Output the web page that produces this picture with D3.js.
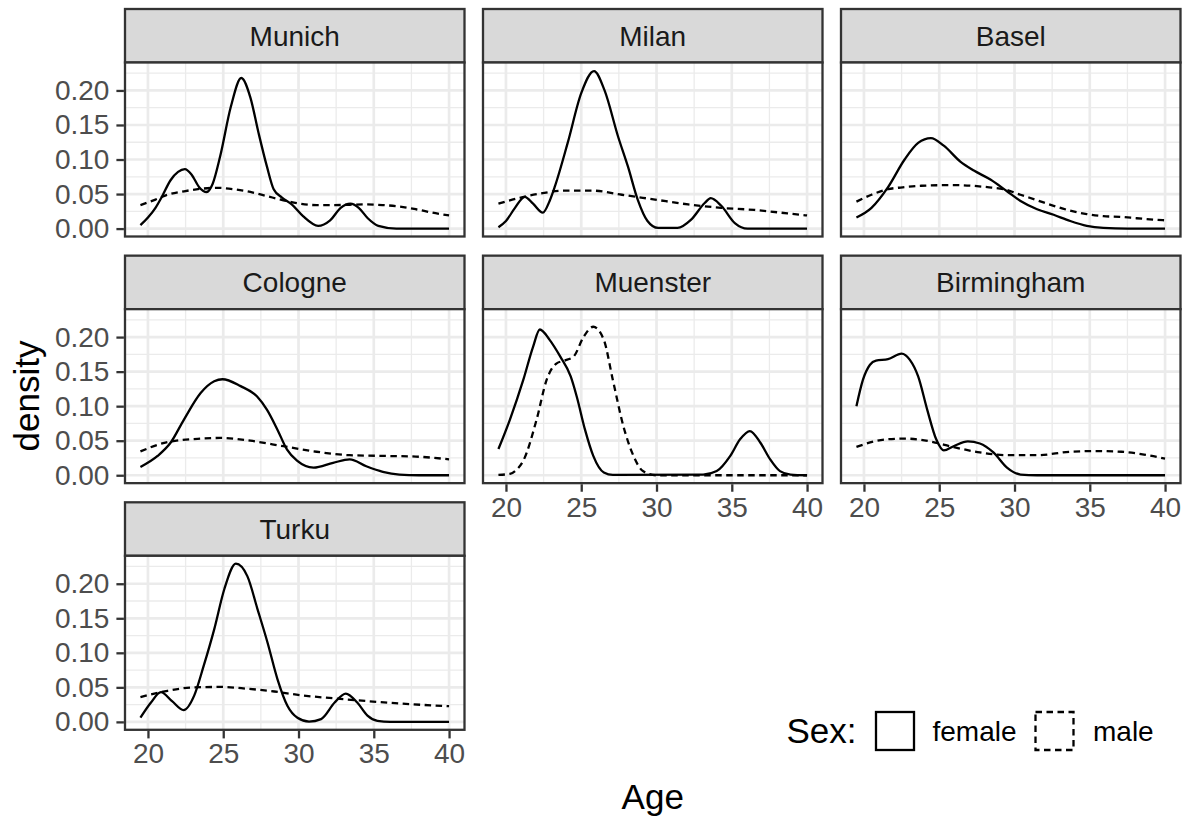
<!DOCTYPE html>
<html>
<head>
<meta charset="utf-8">
<script src="https://cdn.jsdelivr.net/npm/d3@7"></script>
<style>
  html, body { margin: 0; padding: 0; background: #ffffff; }
  svg { display: block; font-family: "Liberation Sans", Arial, sans-serif; }
</style>
</head>
<body>
<svg id="chart" width="1190" height="821"></svg>
<script>
// ---------------- DATA ----------------
const cities = ["Munich", "Milan", "Basel", "Cologne", "Muenster", "Birmingham", "Turku"];
const sexes = ["female", "male"];
const xTicks = [20, 25, 30, 35, 40];
const xTickLabels = ["20", "25", "30", "35", "40"];
const yTicks = [0, 0.05, 0.10, 0.15, 0.20];
const yTickLabels = ["0.00", "0.05", "0.10", "0.15", "0.20"];
const xLabel = "Age";
const yLabel = "density";
const legendTitle = "Sex:";

// [age, density] pairs
const munichFemale = [[19.5,0.005],[20.0,0.016],[20.5,0.030],[20.9,0.045],[21.5,0.070],[22.0,0.082],[22.45,0.086],[22.9,0.078],[23.4,0.060],[23.9,0.053],[24.3,0.065],[24.8,0.105],[25.5,0.176],[26.2,0.218],[26.8,0.190],[27.35,0.138],[27.9,0.090],[28.35,0.057],[28.9,0.045],[29.55,0.035],[30.3,0.018],[31.3,0.004],[32.1,0.012],[32.8,0.030],[33.45,0.036],[34.0,0.030],[34.6,0.015],[35.3,0.004],[36.5,0.0],[40.0,0.0]];
const munichMale = [[19.5,0.034],[20.5,0.042],[21.3,0.049],[22.4,0.054],[23.5,0.0576],[24.6,0.059],[25.7,0.057],[26.8,0.053],[27.9,0.047],[29.0,0.041],[30.1,0.036],[31.2,0.034],[32.3,0.034],[33.4,0.0345],[34.5,0.035],[35.6,0.034],[36.7,0.032],[37.8,0.028],[38.9,0.023],[40.0,0.019]];

const milanFemale = [[19.5,0.002],[20.0,0.011],[20.6,0.030],[21.25,0.046],[21.8,0.036],[22.45,0.023],[22.9,0.040],[23.25,0.061],[24.1,0.124],[25.0,0.196],[25.85,0.228],[26.55,0.200],[27.45,0.133],[28.1,0.090],[28.75,0.042],[29.4,0.011],[30.1,0.001],[31.4,0.001],[32.3,0.013],[33.2,0.037],[33.6,0.044],[34.3,0.033],[35.2,0.008],[36.05,0.0],[40.0,0.0]];
const milanMale = [[19.5,0.036],[20.8,0.044],[22.1,0.050],[23.9,0.055],[25.7,0.055],[27.7,0.049],[29.9,0.042],[32.1,0.035],[34.3,0.030],[36.5,0.027],[38.7,0.022],[40.0,0.019]];

const baselFemale = [[19.5,0.016],[20.5,0.030],[21.6,0.060],[22.7,0.100],[23.6,0.124],[24.45,0.131],[25.3,0.120],[26.4,0.097],[27.3,0.084],[28.4,0.071],[29.5,0.054],[30.4,0.040],[31.5,0.028],[32.6,0.020],[33.7,0.011],[34.8,0.004],[35.9,0.001],[37.5,0.0],[40.0,0.0]];
const baselMale = [[19.5,0.039],[20.5,0.049],[21.6,0.057],[22.7,0.060],[23.8,0.062],[26.0,0.063],[28.2,0.060],[29.3,0.057],[30.4,0.049],[31.5,0.041],[32.6,0.033],[33.7,0.026],[34.8,0.021],[35.9,0.018],[37.0,0.017],[38.1,0.015],[39.2,0.013],[40.0,0.012]];

const cologneFemale = [[19.5,0.012],[20.64,0.028],[21.5,0.047],[22.4,0.081],[23.5,0.119],[24.4,0.136],[24.95,0.139],[26.15,0.129],[27.25,0.114],[27.9,0.095],[28.6,0.066],[29.24,0.037],[29.9,0.021],[31.0,0.011],[32.3,0.018],[33.4,0.023],[34.5,0.013],[35.6,0.005],[36.7,0.001],[38.0,0.0],[40.0,0.0]];
const cologneMale = [[19.5,0.0345],[21.3,0.048],[23.5,0.053],[24.8,0.054],[26.8,0.050],[29.0,0.042],[31.2,0.034],[33.4,0.029],[35.6,0.028],[37.8,0.027],[40.0,0.023]];

const muensterFemale = [[19.5,0.038],[20.27,0.081],[21.15,0.138],[21.8,0.186],[22.25,0.211],[22.9,0.196],[23.6,0.172],[24.3,0.143],[24.7,0.114],[25.25,0.066],[25.8,0.028],[26.5,0.004],[27.1,0.0005],[33.1,0.001],[34.0,0.006],[34.9,0.028],[35.55,0.052],[36.2,0.064],[36.9,0.047],[37.55,0.023],[38.2,0.006],[38.9,0.001],[40.0,0.0]];
const muensterMale = [[19.5,0.0005],[20.27,0.002],[20.7,0.008],[21.15,0.021],[22.04,0.081],[22.7,0.138],[23.37,0.162],[23.9,0.166],[24.5,0.172],[25.15,0.200],[25.8,0.215],[26.5,0.196],[27.1,0.138],[27.8,0.071],[28.47,0.028],[29.1,0.006],[30.0,0.0],[40.0,0.0]];

const birminghamFemale = [[19.5,0.100],[19.93,0.138],[20.4,0.160],[20.8,0.166],[21.6,0.168],[22.5,0.176],[23.05,0.167],[23.6,0.143],[24.2,0.095],[24.8,0.052],[25.3,0.036],[25.95,0.042],[26.9,0.049],[27.7,0.046],[28.6,0.033],[29.5,0.011],[30.4,0.001],[31.5,0.0],[40.0,0.0]];
const birminghamMale = [[19.5,0.041],[21.5,0.052],[22.8,0.053],[24.4,0.049],[25.9,0.041],[27.7,0.033],[29.5,0.029],[31.5,0.029],[33.7,0.034],[35.5,0.035],[37.1,0.034],[38.6,0.030],[40.0,0.024]];

const turkuFemale = [[19.5,0.006],[20.2,0.028],[20.86,0.043],[21.6,0.030],[22.37,0.017],[23.07,0.038],[23.7,0.081],[24.4,0.134],[25.07,0.192],[25.84,0.229],[26.6,0.211],[27.28,0.163],[27.94,0.115],[28.6,0.062],[29.27,0.023],[29.93,0.006],[30.7,0.0005],[31.5,0.004],[32.4,0.028],[33.14,0.041],[33.9,0.028],[34.58,0.009],[35.24,0.0015],[36.1,0.0],[40.0,0.0]];
const turkuMale = [[19.5,0.036],[21.3,0.045],[23.07,0.050],[24.85,0.0506],[26.6,0.048],[28.4,0.044],[30.15,0.0386],[32.4,0.034],[34.6,0.030],[36.8,0.0265],[40.0,0.0227]];

const seriesByCity = {
  Munich: { female: munichFemale, male: munichMale },
  Milan: { female: milanFemale, male: milanMale },
  Basel: { female: baselFemale, male: baselMale },
  Cologne: { female: cologneFemale, male: cologneMale },
  Muenster: { female: muensterFemale, male: muensterMale },
  Birmingham: { female: birminghamFemale, male: birminghamMale },
  Turku: { female: turkuFemale, male: turkuMale }
};

// ---------------- LAYOUT ----------------
const svg = d3.select("#chart");
const nCol = 3;
const leftX = 125, topY = 9;
const panelW = 339.5, gapX = 18.5;
const stripH = 53.5, panelH = 174, gapY = 19.15;
const rowPitch = stripH + panelH + gapY;
const fs = 28, fsTitle = 35;
const borderCol = "#333333";
const lineW = 2.3;

const allPts = cities.flatMap(c => sexes.flatMap(s => seriesByCity[c][s]));
const xMin = d3.min(allPts, d => d[0]), xMax = d3.max(allPts, d => d[0]);
const yMin = 0, yMax = d3.max(allPts, d => d[1]);
const xPad = (xMax - xMin) * 0.05, yPad = (yMax - yMin) * 0.05;

const x = d3.scaleLinear().domain([xMin - xPad, xMax + xPad]).range([0, panelW]);
const y = d3.scaleLinear().domain([yMin - yPad, yMax + yPad]).range([panelH, 0]);

const xMinor = [22.5, 27.5, 32.5, 37.5];
const yMinor = [0.025, 0.075, 0.125, 0.175, 0.225];

const line = d3.line().x(d => x(d[0])).y(d => y(d[1])).curve(d3.curveMonotoneX);
const dash = { female: null, male: "6.5,4.5" };

const defs = svg.append("defs");
defs.append("clipPath").attr("id", "panelClip")
  .append("rect").attr("x", 0).attr("y", 0).attr("width", panelW).attr("height", panelH);

cities.forEach((city, i) => {
  const col = i % nCol, row = Math.floor(i / nCol);
  const px = leftX + col * (panelW + gapX);
  const sy = topY + row * rowPitch;
  const py = sy + stripH;
  const hasBelow = (i + nCol) < cities.length;

  // strip
  const sg = svg.append("g").attr("transform", `translate(${px},${sy})`);
  sg.append("rect").attr("width", panelW).attr("height", stripH)
    .attr("fill", "#D9D9D9").attr("stroke", borderCol).attr("stroke-width", lineW);
  sg.append("text").attr("x", panelW / 2).attr("y", stripH / 2)
    .attr("dy", "0.35em").attr("text-anchor", "middle")
    .attr("font-size", fs).attr("fill", "#1A1A1A").text(city);

  const g = svg.append("g").attr("transform", `translate(${px},${py})`);
  g.append("rect").attr("width", panelW).attr("height", panelH).attr("fill", "#ffffff");

  // gridlines
  const grid = g.append("g");
  grid.selectAll(".xmin").data(xMinor).enter().append("line")
    .attr("x1", d => x(d)).attr("x2", d => x(d)).attr("y1", 0).attr("y2", panelH)
    .attr("stroke", "#EBEBEB").attr("stroke-width", 1.3);
  grid.selectAll(".ymin").data(yMinor.filter(v => y(v) > 0)).enter().append("line")
    .attr("y1", d => y(d)).attr("y2", d => y(d)).attr("x1", 0).attr("x2", panelW)
    .attr("stroke", "#EBEBEB").attr("stroke-width", 1.3);
  grid.selectAll(".xmaj").data(xTicks).enter().append("line")
    .attr("x1", d => x(d)).attr("x2", d => x(d)).attr("y1", 0).attr("y2", panelH)
    .attr("stroke", "#EBEBEB").attr("stroke-width", 2.7);
  grid.selectAll(".ymaj").data(yTicks).enter().append("line")
    .attr("y1", d => y(d)).attr("y2", d => y(d)).attr("x1", 0).attr("x2", panelW)
    .attr("stroke", "#EBEBEB").attr("stroke-width", 2.7);

  // density lines
  const lg = g.append("g").attr("clip-path", "url(#panelClip)");
  sexes.forEach(s => {
    lg.append("path").datum(seriesByCity[city][s])
      .attr("d", line).attr("fill", "none").attr("stroke", "#000000")
      .attr("stroke-width", lineW).attr("stroke-dasharray", dash[s]);
  });

  // border
  g.append("rect").attr("width", panelW).attr("height", panelH)
    .attr("fill", "none").attr("stroke", borderCol).attr("stroke-width", lineW);

  // y axis
  if (col === 0) {
    const ya = g.append("g").attr("transform", "translate(-1.1,0)")
      .call(d3.axisLeft(y).tickValues(yTicks).tickFormat((d, k) => yTickLabels[k])
        .tickSize(7.5).tickPadding(7));
    ya.select(".domain").remove();
    ya.selectAll(".tick line").attr("stroke", borderCol).attr("stroke-width", lineW);
    ya.selectAll(".tick text").attr("font-size", fs).attr("fill", "#4D4D4D")
      .attr("font-family", "'Liberation Sans', Arial, sans-serif");
  }
  // x axis
  if (!hasBelow) {
    const xa = g.append("g").attr("transform", `translate(0,${panelH + 1.1})`)
      .call(d3.axisBottom(x).tickValues(xTicks).tickFormat((d, k) => xTickLabels[k])
        .tickSize(7.5).tickPadding(5));
    xa.select(".domain").remove();
    xa.selectAll(".tick line").attr("stroke", borderCol).attr("stroke-width", lineW);
    xa.selectAll(".tick text").attr("font-size", fs).attr("fill", "#4D4D4D")
      .attr("font-family", "'Liberation Sans', Arial, sans-serif");
  }
});

// axis titles
const fullW = nCol * panelW + (nCol - 1) * gapX;
svg.append("text").attr("x", leftX + fullW / 2).attr("y", 797).attr("dy", "0.35em")
  .attr("text-anchor", "middle").attr("font-size", fsTitle).attr("fill", "#000").text(xLabel);
svg.append("text").attr("transform", "translate(27,396) rotate(-90)").attr("dy", "0.35em")
  .attr("text-anchor", "middle").attr("font-size", fsTitle).attr("fill", "#000").text(yLabel);

// legend
const leg = svg.append("g").attr("transform", "translate(786.5,731)");
leg.append("text").attr("x", 0).attr("y", 0).attr("dy", "0.35em")
  .attr("font-size", fsTitle).attr("fill", "#000").text(legendTitle);
const keyX = [89.5, 249];
const labX = [146, 306.5];
sexes.forEach((s, k) => {
  leg.append("rect").attr("x", keyX[k]).attr("y", -19).attr("width", 38).attr("height", 38)
    .attr("fill", "#ffffff").attr("stroke", "#000").attr("stroke-width", lineW)
    .attr("stroke-dasharray", dash[s]);
  leg.append("text").attr("x", labX[k]).attr("y", 0).attr("dy", "0.35em")
    .attr("font-size", fs).attr("fill", "#000").text(s);
});
</script>
</body>
</html>
